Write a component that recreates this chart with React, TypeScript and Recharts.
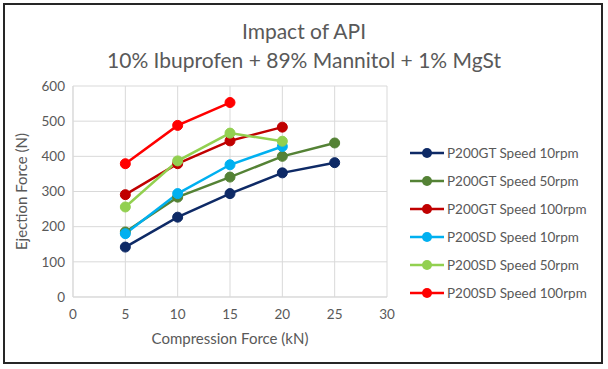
import React from 'react'
import { LineChart, Line, XAxis, YAxis, CartesianGrid, Label } from 'recharts'

const force = [5, 10, 15, 20, 25]
const gt10 = [142, 227, 294, 353, 382]
const gt50 = [185, 284, 341, 400, 438]
const gt100 = [291, 379, 444, 483, null]
const sd10 = [180, 294, 376, 428, null]
const sd50 = [256, 387, 466, 443, null]
const sd100 = [379, 488, 553, null, null]
const xTicks = [0, 5, 10, 15, 20, 25, 30]
const yTicks = [0, 100, 200, 300, 400, 500, 600]

const series = [
  { key: 'gt10', name: 'P200GT Speed 10rpm', color: '#0e2a66', values: gt10 },
  { key: 'gt50', name: 'P200GT Speed 50rpm', color: '#548235', values: gt50 },
  { key: 'gt100', name: 'P200GT Speed 100rpm', color: '#c00000', values: gt100 },
  { key: 'sd10', name: 'P200SD Speed 10rpm', color: '#00b0f0', values: sd10 },
  { key: 'sd50', name: 'P200SD Speed 50rpm', color: '#92d050', values: sd50 },
  { key: 'sd100', name: 'P200SD Speed 100rpm', color: '#ff0000', values: sd100 },
]

const data = force.map((f, i) => {
  const row: Record<string, number | null> = { force: f }
  series.forEach((s) => {
    row[s.key] = s.values[i]
  })
  return row
})

const font = 'Lato, "Open Sans", sans-serif'
const grey = '#595959'

export default function App() {
  return (
    <div style={{ position: 'absolute', left: 0, top: 0, width: 608, height: 369, background: '#fff', fontFamily: font }}>
      <div
        style={{
          position: 'absolute', left: 3, top: 3, width: 600, height: 361,
          border: '2px solid #262626', boxSizing: 'border-box',
        }}
      />
      <div style={{ position: 'absolute', left: 0, width: 608, top: 16, textAlign: 'center', fontSize: 21, color: grey, lineHeight: '29px' }}>
        Impact of API
        <br />
        10% Ibuprofen + 89% Mannitol + 1% MgSt
      </div>
      <div style={{ position: 'absolute', left: 0, top: 0 }}>
        <LineChart width={608} height={369} data={data} margin={{ top: 86, right: 221, bottom: 42, left: 33 }}>
          <CartesianGrid stroke="#d9d9d9" />
          <XAxis
            dataKey="force"
            type="number"
            domain={[0, 30]}
            ticks={xTicks}
            tickLine={false}
            axisLine={{ stroke: '#d9d9d9' }}
            tick={{ fill: grey, fontSize: 13.5, fontFamily: font, dy: 4 }}
            height={30}
          >
            <Label value="Compression Force (kN)" position="bottom" offset={6} fill={grey} fontSize={15} fontFamily={font} />
          </XAxis>
          <YAxis
            type="number"
            domain={[0, 600]}
            ticks={yTicks}
            tickLine={false}
            axisLine={{ stroke: '#d9d9d9' }}
            tick={{ fill: grey, fontSize: 13.5, fontFamily: font }}
            width={40}
          >
            <Label value="Ejection Force (N)" angle={-90} position="left" offset={11} fill={grey} fontSize={15} fontFamily={font} style={{ textAnchor: 'middle' }} />
          </YAxis>
          {series.map((s) => (
            <Line
              key={s.key}
              dataKey={s.key}
              name={s.name}
              stroke={s.color}
              strokeWidth={2.5}
              dot={{ r: 5, fill: s.color, stroke: s.color, strokeWidth: 1 }}
              isAnimationActive={false}
            />
          ))}
        </LineChart>
      </div>
      <div style={{ position: 'absolute', left: 410, top: 139 }}>
        {series.map((s) => (
          <div key={s.key} style={{ display: 'flex', alignItems: 'center', height: 28 }}>
            <svg width={36} height={12}>
              <line x1={0} y1={6} x2={34} y2={6} stroke={s.color} strokeWidth={2.5} />
              <circle cx={17} cy={6} r={5} fill={s.color} />
            </svg>
            <span style={{ fontSize: 13.5, color: grey, marginLeft: 1 }}>{s.name}</span>
          </div>
        ))}
      </div>
    </div>
  )
}
